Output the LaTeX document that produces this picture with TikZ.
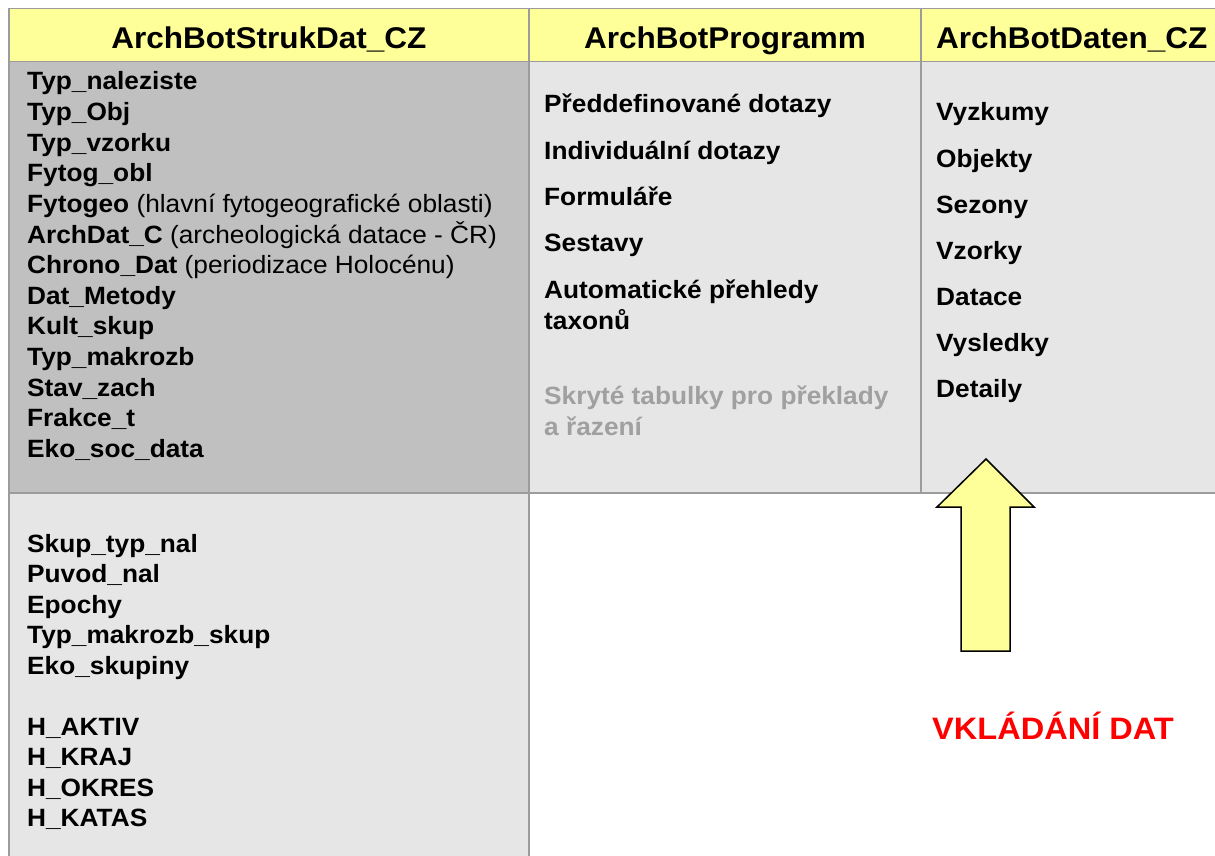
\documentclass[tikz,border=0pt]{standalone}
\usepackage{fontspec}
\setmainfont{Liberation Sans}[FakeStretch=1.05]
\definecolor{hdrY}{HTML}{FFFF99}
\definecolor{darkG}{HTML}{C0C0C0}
\definecolor{lightG}{HTML}{E6E6E6}
\definecolor{lineG}{HTML}{9C9C9C}
\definecolor{hideG}{HTML}{A0A0A0}
\definecolor{redT}{HTML}{FF0000}
\tikzset{
  hdrtxt/.style={inner sep=0pt, anchor=base, font=\fontsize{30}{32}\selectfont\bfseries},
  itm/.style={inner sep=0pt, anchor=base west, font=\fontsize{25}{27}\selectfont\bfseries},
  itmn/.style={inner sep=0pt, anchor=base west, font=\fontsize{25}{27}\selectfont},
  grid/.style={draw=lineG, line width=1.8pt},
}
\begin{document}
\begin{tikzpicture}[x=1pt,y=-1pt]
\useasboundingbox (0,0) rectangle (1215,856);
\clip (0,0) rectangle (1215,856);
% fills
\fill[hdrY] (9,8.5) rectangle (1215,61.5);
\fill[darkG] (9,61.5) rectangle (529,493);
\fill[lightG] (529,61.5) rectangle (1215,493);
\fill[lightG] (9,493) rectangle (529,856);
% grid lines
\draw[grid] (9,8.5) -- (1215,8.5);
\draw[grid] (9,61.5) -- (1215,61.5);
\draw[grid] (9,493) -- (1215,493);
\draw[grid] (9,8.5) -- (9,856);
\draw[grid] (529,8.5) -- (529,856);
\draw[grid] (921,8.5) -- (921,493);
% headers
\node[hdrtxt] (h1) at (269,49) {ArchBotStrukDat\_CZ};
\node[hdrtxt] (h2) at (725,49) {ArchBotProgramm};
\node[hdrtxt, anchor=base west] (h3) at (936,49) {ArchBotDaten\_CZ};
% left column row 1
\node[itm] (l1) at (27,90) {Typ\_naleziste};
\node[itm] (l2) at (27,120.6) {Typ\_Obj};
\node[itm] (l3) at (27,151.2) {Typ\_vzorku};
\node[itm] (l4) at (27,181.8) {Fytog\_obl};
\node[itmn] (l5) at (27,212.4) {\textbf{Fytogeo} (hlavní fytogeografické oblasti)};
\node[itmn] (l6) at (27,243) {\textbf{ArchDat\_C} (archeologická datace - ČR)};
\node[itmn] (l7) at (27,273.6) {\textbf{Chrono\_Dat} (periodizace Holocénu)};
\node[itm] (l8) at (27,304.2) {Dat\_Metody};
\node[itm] (l9) at (27,334.8) {Kult\_skup};
\node[itm] (l10) at (27,365.4) {Typ\_makrozb};
\node[itm] (l11) at (27,396) {Stav\_zach};
\node[itm] (l12) at (27,426.6) {Frakce\_t};
\node[itm] (l13) at (27,457.2) {Eko\_soc\_data};
% left column row 2
\node[itm] (s1) at (27,552) {Skup\_typ\_nal};
\node[itm] (s2) at (27,582.5) {Puvod\_nal};
\node[itm] (s3) at (27,613) {Epochy};
\node[itm] (s4) at (27,643.5) {Typ\_makrozb\_skup};
\node[itm] (s5) at (27,674) {Eko\_skupiny};
\node[itm] (s6) at (27,735) {H\_AKTIV};
\node[itm] (s7) at (27,765.5) {H\_KRAJ};
\node[itm] (s8) at (27,796) {H\_OKRES};
\node[itm] (s9) at (27,826.5) {H\_KATAS};
% middle column
\node[itm] (m1) at (544,113) {Předdefinované dotazy};
\node[itm] (m2) at (544,160) {Individuální dotazy};
\node[itm] (m3) at (544,205) {Formuláře};
\node[itm] (m4) at (544,251) {Sestavy};
\node[itm] (m5) at (544,298) {Automatické přehledy};
\node[itm] (m5b) at (544,329) {taxonů};
\node[itm, text=hideG] (m6) at (544,404) {Skryté tabulky pro překlady};
\node[itm, text=hideG] (m6b) at (544,435) {a řazení};
% right column
\node[itm] (r1) at (936,121) {Vyzkumy};
\node[itm] (r2) at (936,167) {Objekty};
\node[itm] (r3) at (936,213) {Sezony};
\node[itm] (r4) at (936,259) {Vzorky};
\node[itm] (r5) at (936,305) {Datace};
\node[itm] (r6) at (936,351) {Vysledky};
\node[itm] (r7) at (936,397) {Detaily};
% arrow
\draw[fill=hdrY, draw=black, line width=1.5pt, line join=miter]
  (986,459) -- (1034,507) -- (1010,507) -- (1010,651) -- (961,651) -- (961,507) -- (937,507) -- cycle;
% red label
\node[inner sep=0pt, anchor=base, text=redT, font=\fontsize{31}{33}\selectfont\bfseries] (lab) at (1053,739) {VKLÁDÁNÍ DAT};
\end{tikzpicture}
\end{document}
